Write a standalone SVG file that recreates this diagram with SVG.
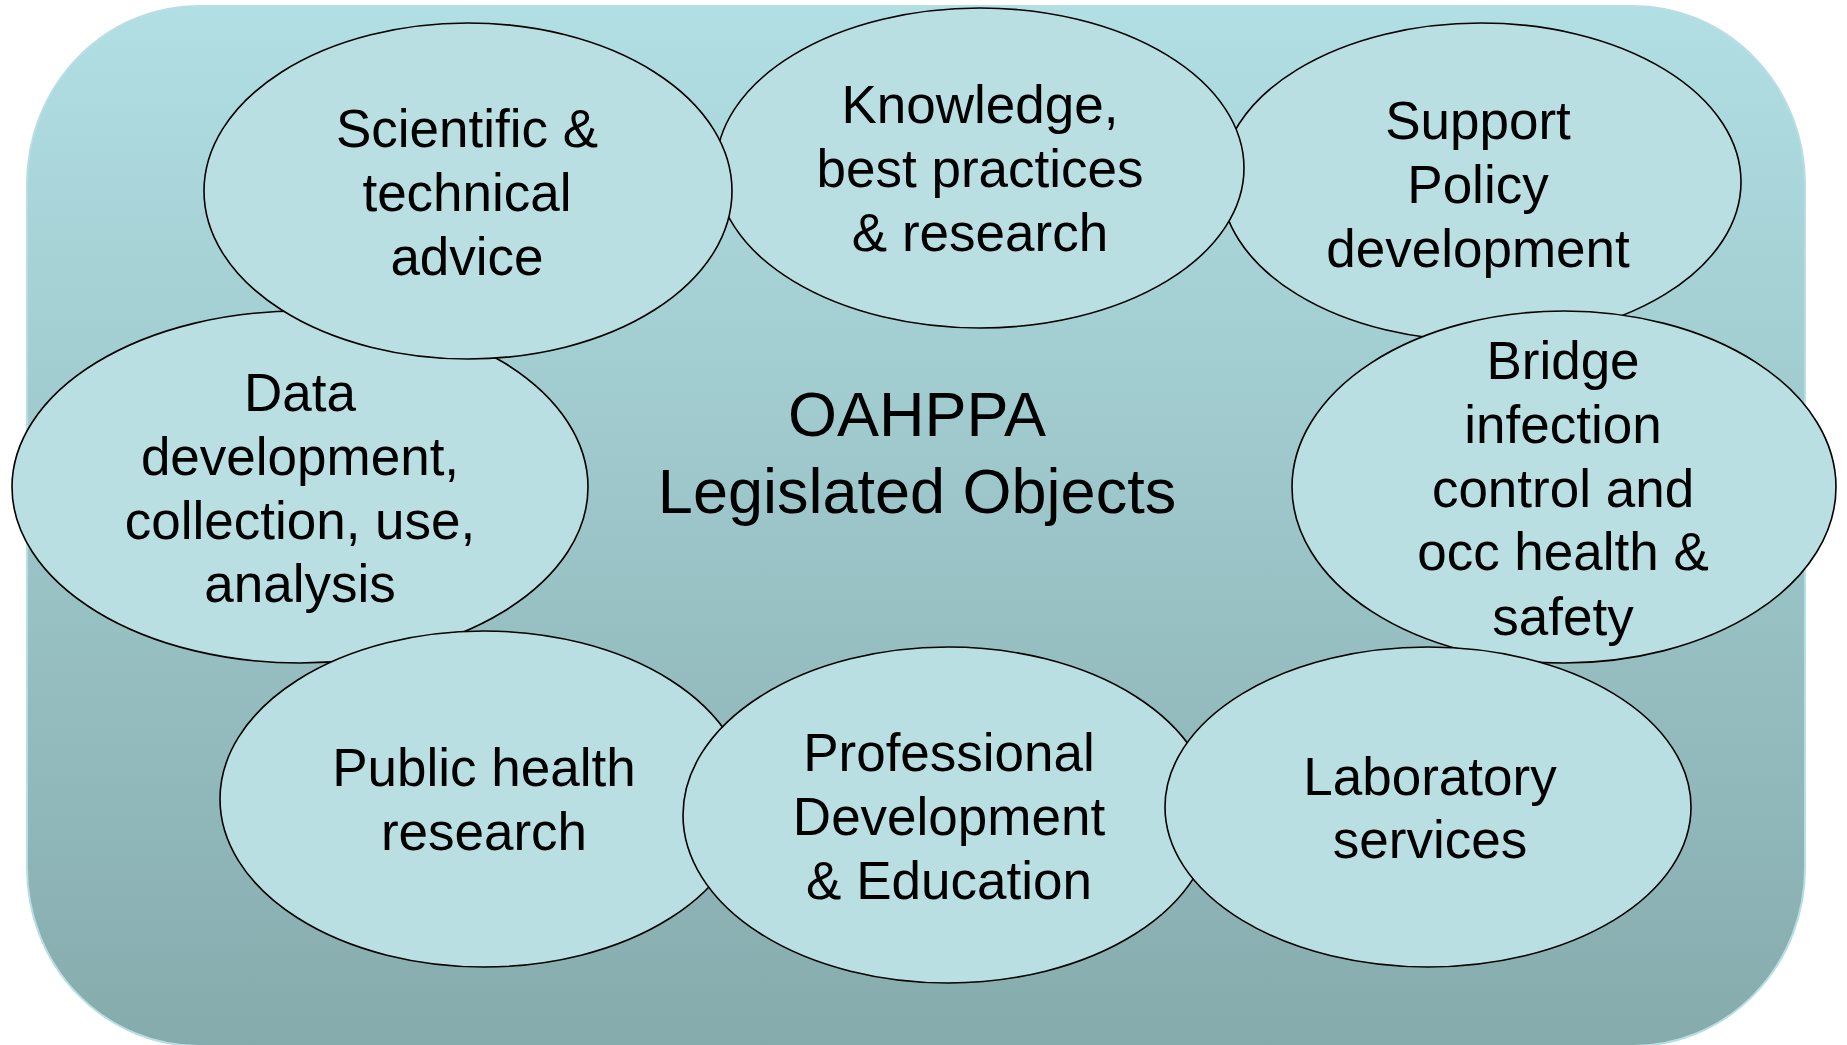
<svg xmlns="http://www.w3.org/2000/svg" width="1847" height="1045" viewBox="0 0 1847 1045">
  <defs>
    <linearGradient id="bg" x1="0" y1="0" x2="0" y2="1">
      <stop offset="0" stop-color="#b1dfe4"/>
      <stop offset="1" stop-color="#86abad"/>
    </linearGradient>
  </defs>
  <style>
    .node ellipse { fill: #b9dfe3; stroke: #000; stroke-width: 1.6; }
    .node text, .title text { font-family: "Liberation Sans", Arial, sans-serif; fill: #000; text-anchor: middle; }
    .node text { font-size: 53px; }
    .title text { font-size: 63px; }
  </style>
  <rect x="0" y="0" width="1847" height="1045" fill="#ffffff"/>
  <rect id="background" x="27" y="6" width="1778" height="1040" rx="172" ry="178" fill="url(#bg)" stroke="#b6dee3" stroke-width="2"/>
  <g id="connectors"></g>
  <g id="title" class="title">
    <text x="917" y="436">OAHPPA</text>
    <text x="917" y="513">Legislated Objects</text>
  </g>
  <g id="support" class="node">
    <ellipse cx="1481" cy="182" rx="260" ry="159"/>
    <text x="1478" y="139">Support</text>
    <text x="1478" y="203">Policy</text>
    <text x="1478" y="267">development</text>
  </g>
  <g id="knowledge" class="node">
    <ellipse cx="980" cy="168" rx="264" ry="160"/>
    <text x="980" y="123">Knowledge,</text>
    <text x="980" y="187">best practices</text>
    <text x="980" y="251">&amp; research</text>
  </g>
  <g id="data" class="node">
    <ellipse cx="300" cy="487" rx="288" ry="176"/>
    <text x="300" y="411">Data</text>
    <text x="300" y="475">development,</text>
    <text x="300" y="539">collection, use,</text>
    <text x="300" y="602">analysis</text>
  </g>
  <g id="scientific" class="node">
    <ellipse cx="468" cy="191" rx="264" ry="168"/>
    <text x="467" y="147">Scientific &amp;</text>
    <text x="467" y="211">technical</text>
    <text x="467" y="275">advice</text>
  </g>
  <g id="public" class="node">
    <ellipse cx="484" cy="799" rx="264" ry="168"/>
    <text x="484" y="786">Public health</text>
    <text x="484" y="850">research</text>
  </g>
  <g id="professional" class="node">
    <ellipse cx="948" cy="815" rx="265" ry="168"/>
    <text x="949" y="771">Professional</text>
    <text x="949" y="835">Development</text>
    <text x="949" y="899">&amp; Education</text>
  </g>
  <g id="bridge" class="node">
    <ellipse cx="1564" cy="487" rx="272" ry="176"/>
    <text x="1563" y="379">Bridge</text>
    <text x="1563" y="443">infection</text>
    <text x="1563" y="507">control and</text>
    <text x="1563" y="570">occ health &amp;</text>
    <text x="1563" y="635">safety</text>
  </g>
  <g id="laboratory" class="node">
    <ellipse cx="1428" cy="807" rx="263" ry="160"/>
    <text x="1430" y="795">Laboratory</text>
    <text x="1430" y="858">services</text>
  </g>
</svg>
